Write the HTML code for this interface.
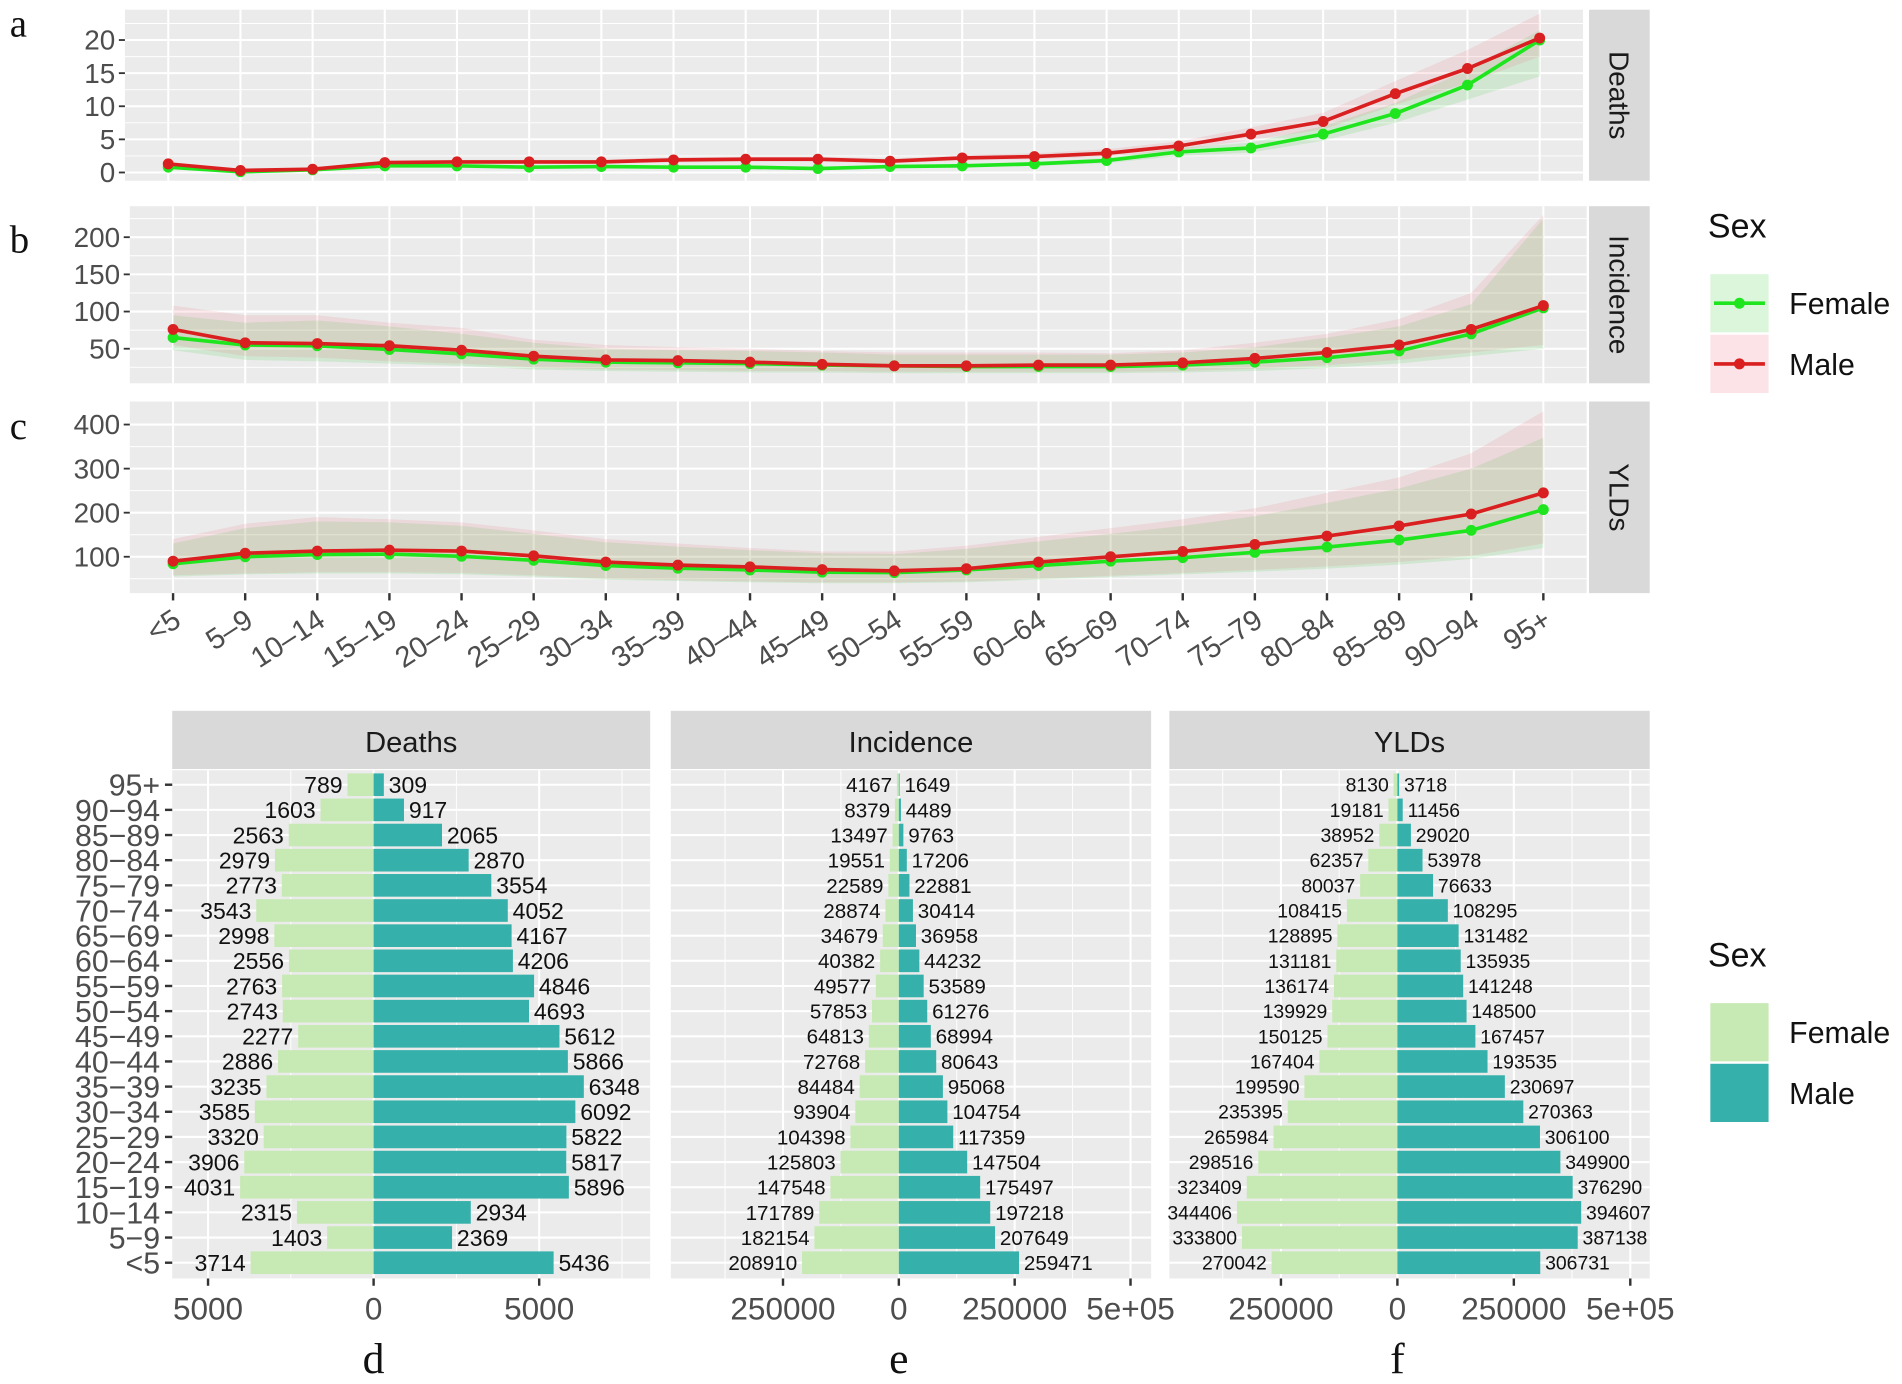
<!DOCTYPE html>
<html><head><meta charset="utf-8"><style>
html,body{margin:0;padding:0;background:#fff;}
svg{display:block;}
text{font-family:"Liberation Sans Narrow","Liberation Sans",sans-serif;}
</style></head><body>
<svg id="fig" xmlns="http://www.w3.org/2000/svg" width="1902" height="1384" viewBox="0 0 1568 1141" preserveAspectRatio="none"></svg>
<script>
const ages = ["<5","5-9","10-14","15-19","20-24","25-29","30-34","35-39","40-44","45-49","50-54","55-59","60-64","65-69","70-74","75-79","80-84","85-89","90-94","95+"];
// Panel a: Deaths rates
const deathsF = [0.8,0.1,0.4,1.0,1.0,0.8,0.9,0.8,0.8,0.6,0.9,1.0,1.3,1.8,3.1,3.7,5.8,8.9,13.2,20.0];
const deathsM = [1.3,0.3,0.5,1.5,1.6,1.6,1.6,1.9,2.0,2.0,1.7,2.2,2.4,2.9,4.0,5.8,7.7,11.9,15.7,20.3];
const deathsFlo = [0.6,0.05,0.3,0.8,0.8,0.6,0.7,0.6,0.6,0.5,0.7,0.8,1.0,1.4,2.5,3.0,4.8,7.5,11.0,14.5];
const deathsFhi = [1.0,0.2,0.5,1.2,1.2,1.0,1.1,1.0,1.0,0.8,1.1,1.2,1.6,2.2,3.7,4.5,7.0,10.5,15.5,21.5];
const deathsMlo = [1.0,0.2,0.4,1.2,1.3,1.3,1.3,1.5,1.6,1.6,1.4,1.8,2.0,2.4,3.4,4.9,6.5,10.2,13.5,17.5];
const deathsMhi = [1.6,0.4,0.7,1.8,1.9,1.9,1.9,2.3,2.4,2.4,2.1,2.6,2.9,3.5,4.7,6.8,9.0,13.8,18.5,24.0];
// Panel b: Incidence rates
const incF = [65,55,54,49,43,36,32,31,30,28,27,26,26,26,28,32,38,47,70,105];
const incM = [76,58,57,54,48,40,35,34,32,29,27,27,28,28,31,37,45,55,76,108];
const incFlo = [48,35,33,30,27,22,20,19,18,18,17,17,17,17,18,20,24,30,40,50];
const incFhi = [95,85,88,80,70,58,50,48,47,45,42,42,42,42,45,52,65,80,110,225];
const incMlo = [55,40,38,33,30,25,22,21,20,20,19,19,19,19,20,23,28,35,45,55];
const incMhi = [108,95,95,85,78,62,55,52,50,47,45,45,45,44,48,58,70,90,125,230];
// Panel c: YLDs rates
const yldF = [84,100,105,106,101,92,80,74,70,65,64,70,80,90,98,110,122,138,160,207];
const yldM = [90,108,113,115,113,102,88,81,77,71,68,73,88,100,112,128,147,170,197,245];
const yldFlo = [55,60,62,62,60,55,48,45,42,40,40,42,48,54,60,66,73,82,95,120];
const yldFhi = [130,165,180,178,170,152,133,123,115,108,106,118,135,152,170,192,222,255,300,370];
const yldMlo = [58,62,65,65,63,58,50,47,44,42,42,44,50,57,63,70,78,88,102,130];
const yldMhi = [140,175,190,185,178,160,140,130,120,112,112,125,145,165,185,210,245,280,335,430];
const ticksA = [0,5,10,15,20];
const ticksB = [50,100,150,200];
const ticksC = [100,200,300,400];
// Bottom pyramids (counts)
const dF = [3714,1403,2315,4031,3906,3320,3585,3235,2886,2277,2743,2763,2556,2998,3543,2773,2979,2563,1603,789];
const dM = [5436,2369,2934,5896,5817,5822,6092,6348,5866,5612,4693,4846,4206,4167,4052,3554,2870,2065,917,309];
const eF = [208910,182154,171789,147548,125803,104398,93904,84484,72768,64813,57853,49577,40382,34679,28874,22589,19551,13497,8379,4167];
const eM = [259471,207649,197218,175497,147504,117359,104754,95068,80643,68994,61276,53589,44232,36958,30414,22881,17206,9763,4489,1649];
const fF = [270042,333800,344406,323409,298516,265984,235395,199590,167404,150125,139929,136174,131181,128895,108415,80037,62357,38952,19181,8130];
const fM = [306731,387138,394607,376290,349900,306100,270363,230697,193535,167457,148500,141248,135935,131482,108295,76633,53978,29020,11456,3718];
const ticksD = [-5000,0,5000];
const tickLabD = ["5000","0","5000"];
const ticksEF = [-250000,0,250000,500000];
const tickLabEF = ["250000","0","250000","5e+05"];

const NS="http://www.w3.org/2000/svg";
const svg=document.getElementById('fig');
function el(tag,attrs,parent,txt){const e=document.createElementNS(NS,tag);for(const k in attrs)e.setAttribute(k,attrs[k]);if(txt!==undefined)e.textContent=txt;(parent||svg).appendChild(e);return e;}

const GREEN="#1fe51f", RED="#d91f1f", GRID="#ebebeb";
function linePanel(name,L,R,T,B,y,ticks,minors,F,M,Flo,Fhi,Mlo,Mhi,strip,letter,letterY,showX){
  const g=el('g',{});
  
  
  el('rect',{x:L,y:T,width:R-L,height:B-T,fill:GRID},g);
  const step=(R-L)/20.2;
  const x=i=>L+(i+0.6)*step;
  minors.forEach(v=>{const yy=y(v);if(yy>T&&yy<B)el('line',{x1:L,x2:R,y1:yy,y2:yy,stroke:'#fff','stroke-width':0.8},g);});
  ticks.forEach(v=>{const yy=y(v);el('line',{x1:L,x2:R,y1:yy,y2:yy,stroke:'#fff','stroke-width':1.7},g);
    const t=el('text',{x:L-8,y:yy+8,'text-anchor':'end','font-size':23,fill:'#4d4d4d'},g,String(v));
    
    
    el('line',{x1:L-5,x2:L,y1:yy,y2:yy,stroke:'#333','stroke-width':1.5},g);});
  ages.forEach((a,i)=>{el('line',{x1:x(i),x2:x(i),y1:T,y2:B,stroke:'#fff','stroke-width':1.7},g);});
  const clip='clip-'+name;
  const cp=el('clipPath',{id:clip},g);el('rect',{x:L,y:T,width:R-L,height:B-T},cp);
  const inner=el('g',{'clip-path':'url(#'+clip+')'},g);
  function ribbon(lo,hi,fill,nm){let d='';hi.forEach((v,i)=>{d+=(i?'L':'M')+x(i)+','+y(v);});for(let i=lo.length-1;i>=0;i--)d+='L'+x(i)+','+y(lo[i]);d+='Z';
    const p=el('path',{d:d,fill:fill},inner);}
  ribbon(Flo,Fhi,'rgba(40,200,40,0.13)',name+'-female-ribbon');
  ribbon(Mlo,Mhi,'rgba(235,90,110,0.13)',name+'-male-ribbon');
  function series(vals,col,nm){const p=el('polyline',{points:vals.map((v,i)=>x(i)+','+y(v)).join(' '),fill:'none',stroke:col,'stroke-width':3},inner);
    
    vals.forEach((v,i)=>{const c=el('circle',{cx:x(i),cy:y(v),r:4.5,fill:col},inner);});}
  series(F,GREEN,name+'-female');
  series(M,RED,name+'-male');
  el('rect',{x:1310,y:T,width:50,height:B-T,fill:'#d9d9d9'},g);
  const st=el('text',{x:0,y:0,transform:`translate(1327,${(T+B)/2}) rotate(90)`,'text-anchor':'middle','font-size':23,fill:'#1a1a1a',style:'font-family:"Liberation Sans",sans-serif'},g,strip);
  
  const lt=el('text',{x:8,y:letterY,'font-size':32,fill:'#111',style:'font-family:"Liberation Serif",serif'},g,letter);
  
  if(showX){ages.forEach((a,i)=>{el('line',{x1:x(i),x2:x(i),y1:B,y2:B+6,stroke:'#333','stroke-width':2},g);
    const t=el('text',{x:0,y:0,transform:`translate(${x(i)+8},${B+26}) rotate(-33)`,'text-anchor':'end','font-size':24,fill:'#4d4d4d'},g,a.replace('-','\u2013'));
    });}
}
linePanel('deaths',103,1305,8,149,v=>142.2-5.46*v,ticksA,[2.5,7.5,12.5,17.5,22.5],deathsF,deathsM,deathsFlo,deathsFhi,deathsMlo,deathsMhi,'Deaths','a',30,false);
linePanel('incidence',107,1308,170,316,v=>287.5-(v-50)*0.613,ticksB,[25,75,125,175,225],incF,incM,incFlo,incFhi,incMlo,incMhi,'Incidence','b',208,false);
linePanel('ylds',107,1308,331,489,v=>459-(v-100)*0.3633,ticksC,[150,250,350,50],yldF,yldM,yldFlo,yldFhi,yldMlo,yldMhi,'YLDs','c',362,true);

// Legends
function legend(y0,lineKeys,nm){
  const g=el('g',{});
  el('text',{x:1408,y:y0,'font-size':28,fill:'#111',style:'font-family:"Liberation Sans",sans-serif'},g,'Sex');
  [['Female',lineKeys?'rgba(40,200,40,0.17)':'#c7e9b4',GREEN],['Male',lineKeys?'rgba(235,90,110,0.17)':'#35b0aa',RED]].forEach((k,i)=>{
    const ky=y0+30+i*50;
    const r=el('rect',{x:1410,y:ky,width:48,height:48,fill:k[1]},g);
    
    if(lineKeys){el('line',{x1:1413,x2:1455,y1:ky+24,y2:ky+24,stroke:k[2],'stroke-width':3},g);el('circle',{cx:1434,cy:ky+24,r:4.5,fill:k[2]},g);}
    const t=el('text',{x:1475,y:ky+33,'font-size':25,fill:'#111',style:'font-family:"Liberation Sans",sans-serif'},g,k[0]);
    });
}
legend(196,true,'legend-lines');
legend(797,false,'legend-bars');

// Pyramid panels
function pyramid(name,L,R,zero,scale,F,M,ticks,labs,strip,letter,fs,minors,showY){
  const g=el('g',{});
  const T=635,B=1054;
  el('rect',{x:L,y:586,width:R-L,height:48,fill:'#d9d9d9'},g);
  const st=el('text',{x:(L+R)/2,y:620,'text-anchor':'middle','font-size':24,fill:'#1a1a1a'},g,strip);
  
  el('rect',{x:L,y:T,width:R-L,height:B-T,fill:GRID},g);
  const x=v=>zero+v*scale;
  const step=20.74;
  const yc=i=>1041-i*step;
  minors.forEach(v=>{const xx=x(v);if(xx>L&&xx<R)el('line',{x1:xx,x2:xx,y1:T,y2:B,stroke:'#fff','stroke-width':0.8},g);});
  ticks.forEach((v,k)=>{const xx=x(v);el('line',{x1:xx,x2:xx,y1:T,y2:B,stroke:'#fff','stroke-width':1.7},g);
    el('line',{x1:xx,x2:xx,y1:B,y2:B+6,stroke:'#333','stroke-width':2},g);
    const t=el('text',{x:xx,y:1088,'text-anchor':'middle','font-size':26,fill:'#4d4d4d'},g,labs[k]);
    });
  ages.forEach((a,i)=>{el('line',{x1:L,x2:R,y1:yc(i),y2:yc(i),stroke:'#fff','stroke-width':1.7},g);
    if(showY){el('line',{x1:L-6,x2:L,y1:yc(i),y2:yc(i),stroke:'#333','stroke-width':2},g);
      const t=el('text',{x:L-10,y:yc(i)+9,'text-anchor':'end','font-size':25,fill:'#4d4d4d',style:'font-family:"Liberation Sans",sans-serif'},g,a.replace('-','\u2212'));
      }});
  const h=step*0.9;
  ages.forEach((a,i)=>{
    const xf=x(-F[i]);
    const rf=el('rect',{x:xf,y:yc(i)-h/2,width:zero-xf,height:h,fill:'#c7e9b4'},g);
    
    const xm=x(M[i]);
    const rm=el('rect',{x:zero,y:yc(i)-h/2,width:xm-zero,height:h,fill:'#35b0aa'},g);
    
    const tf=el('text',{x:xf-4,y:yc(i)+fs*0.36,'text-anchor':'end','font-size':fs,fill:'#111'},g,String(F[i]));
    
    const tm=el('text',{x:xm+4,y:yc(i)+fs*0.36,'font-size':fs,fill:'#111'},g,String(M[i]));
    
  });
  const lt=el('text',{x:zero,y:1132,'text-anchor':'middle','font-size':36,fill:'#111',style:'font-family:"Liberation Serif",serif'},g,letter);
  
}
pyramid('deaths',142,536,308,0.0273,dF,dM,ticksD,tickLabD,'Deaths','d',19,[-7500,-2500,2500,7500],true);
pyramid('incidence',553,949,741,0.000382,eF,eM,ticksEF,tickLabEF,'Incidence','e',17,[-375000,-125000,125000,375000],false);
pyramid('ylds',964,1360,1152,0.000384,fF,fM,ticksEF,tickLabEF,'YLDs','f',16,[-375000,-125000,125000,375000],false);
</script>
</body></html>
